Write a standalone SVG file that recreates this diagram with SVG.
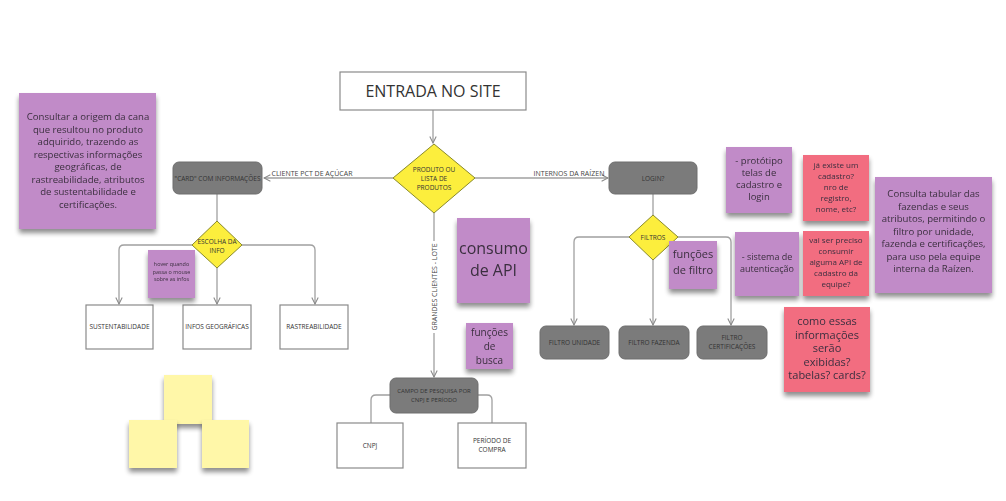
<svg xmlns="http://www.w3.org/2000/svg" width="1006" height="501" viewBox="0 0 1006 501">
<style>
text{font-family:"Open Sans","Liberation Sans",sans-serif;text-anchor:middle}
.lbl{font-size:6.5px;fill:#333}
.wbox{fill:#fff;stroke:#8a8a8a;stroke-width:1.2}
.gbox{fill:#7b7b7b;stroke:#6e6e6e;stroke-width:1}
.dia{fill:#fcee3d;stroke:#8a8a2a;stroke-width:1}
.con{fill:none;stroke:#a0a0a0;stroke-width:1.3}
.purple{fill:#c18bc8}
.pink{fill:#f26d80}
.yellow{fill:#fff7a8}
.st{fill:#3b2f3f}
.edge{font-size:7px;fill:#444}
</style>
<defs>
<marker id="arr" viewBox="0 0 10 10" refX="9" refY="5" markerWidth="8" markerHeight="8" orient="auto-start-reverse" markerUnits="userSpaceOnUse">
<path d="M1,1 L9,5 L1,9" fill="none" stroke="#888" stroke-width="1.3"/>
</marker>
<filter id="sh" x="-20%" y="-20%" width="140%" height="150%">
<feGaussianBlur in="SourceAlpha" stdDeviation="2.5"/>
<feOffset dx="0" dy="4" result="b"/>
<feComponentTransfer><feFuncA type="linear" slope="0.45"/></feComponentTransfer>
<feMerge><feMergeNode/><feMergeNode in="SourceGraphic"/></feMerge>
</filter>
</defs>
<rect width="1006" height="501" fill="#fff"/>

<g id="connectors">
<path class="con" d="M433,110 V143" marker-end="url(#arr)"/>
<path class="con" d="M393,178 H264" marker-end="url(#arr)"/>
<path class="con" d="M475,178 H608" marker-end="url(#arr)"/>
<path class="con" d="M434,213 V377" marker-end="url(#arr)"/>
<path class="con" d="M217,194 V221"/>
<path class="con" d="M192,245 H124 Q119,245 119,250 V304" marker-end="url(#arr)"/>
<path class="con" d="M217,268 V304" marker-end="url(#arr)"/>
<path class="con" d="M242,245 H310 Q315,245 315,250 V304" marker-end="url(#arr)"/>
<path class="con" d="M390,395 H376 Q371,395 371,400 V423"/>
<path class="con" d="M478,395 H487 Q492,395 492,400 V423"/>
<path class="con" d="M653,194 V215"/>
<path class="con" d="M629,237 H579 Q574,237 574,242 V325" marker-end="url(#arr)"/>
<path class="con" d="M653,260 V325" marker-end="url(#arr)"/>
<path class="con" d="M678,237 H726 Q731,237 731,242 V325" marker-end="url(#arr)"/>
<text class="edge" x="312" y="176">CLIENTE PCT DE AÇÚCAR</text>
<text class="edge" x="569" y="176">INTERNOS DA RAÍZEN</text>
<g transform="translate(434,287) rotate(-90)">
<rect x="-46" y="-5" width="92" height="10" fill="#fff"/>
<text class="edge" x="0" y="2.5">GRANDES CLIENTES - LOTE</text>
</g>
</g>

<g id="sticky-consultar" filter="url(#sh)">
<rect class="purple" x="19" y="93" width="137" height="136"/>
<g class="st" style="font-size:9.6px">
<text x="88" y="120">Consultar a origem da cana</text>
<text x="88" y="132.5">que resultou no produto</text>
<text x="88" y="145">adquirido, trazendo as</text>
<text x="88" y="157.5">respectivas informações</text>
<text x="88" y="170">geográficas, de</text>
<text x="88" y="182.5">rastreabilidade, atributos</text>
<text x="88" y="195">de sustentabilidade e</text>
<text x="88" y="207.5">certificações.</text>
</g>
</g>

<g id="entrada">
<rect class="wbox" x="340" y="72" width="186" height="38"/>
<text x="433" y="97" style="font-size:16px;fill:#333">ENTRADA NO SITE</text>
</g>

<g id="produto">
<polygon class="dia" points="434,144 475,178 434,213 393,178"/>
<text class="lbl" x="434" y="172">PRODUTO OU</text>
<text class="lbl" x="434" y="181">LISTA DE</text>
<text class="lbl" x="434" y="190">PRODUTOS</text>
</g>

<g id="card">
<rect class="gbox" x="173" y="162" width="89" height="32" rx="6"/>
<text class="lbl" x="217.5" y="180.5">"CARD" COM INFORMAÇÕES</text>
</g>

<g id="escolha">
<polygon class="dia" points="217,221 242,245 217,268 192,245"/>
<text class="lbl" x="217" y="244">ESCOLHA DA</text>
<text class="lbl" x="217" y="253">INFO</text>
</g>

<g id="sustentabilidade">
<rect class="wbox" x="86" y="305" width="67" height="44"/>
<text class="lbl" x="119.5" y="329">SUSTENTABILIDADE</text>
</g>
<g id="infos-geo">
<rect class="wbox" x="183" y="305" width="68" height="44"/>
<text class="lbl" x="217" y="329">INFOS GEOGRÁFICAS</text>
</g>
<g id="rastreabilidade">
<rect class="wbox" x="280" y="305" width="68" height="44"/>
<text class="lbl" x="314" y="329">RASTREABILIDADE</text>
</g>

<g id="sticky-hover" filter="url(#sh)">
<rect class="purple" x="148" y="250" width="47" height="48"/>
<g class="st" style="font-size:5.4px">
<text x="171.5" y="266">hover quando</text>
<text x="171.5" y="273.5">passa o mouse</text>
<text x="171.5" y="281">sobre as infos</text>
</g>
</g>

<g id="sticky-consumo" filter="url(#sh)">
<rect class="purple" x="457" y="218" width="73" height="85"/>
<text class="st" x="493.5" y="254" style="font-size:16px">consumo</text>
<text class="st" x="493.5" y="276" style="font-size:16px">de API</text>
</g>

<g id="sticky-busca" filter="url(#sh)">
<rect class="purple" x="466" y="323" width="47" height="46"/>
<g class="st" style="font-size:10px">
<text x="489.5" y="336">funções</text>
<text x="489.5" y="350">de</text>
<text x="489.5" y="364">busca</text>
</g>
</g>

<g id="pesquisa">
<rect class="gbox" x="390" y="378" width="88" height="35" rx="6"/>
<text class="lbl" x="434" y="393" style="font-size:6px">CAMPO DE PESQUISA POR</text>
<text class="lbl" x="434" y="402" style="font-size:6px">CNPJ E PERÍODO</text>
</g>
<g id="cnpj">
<rect class="wbox" x="337" y="423" width="66" height="45"/>
<text class="lbl" x="370" y="448">CNPJ</text>
</g>
<g id="periodo">
<rect class="wbox" x="458" y="423" width="68" height="45"/>
<text class="lbl" x="492" y="443">PERÍODO DE</text>
<text class="lbl" x="492" y="452">COMPRA</text>
</g>

<g id="login">
<rect class="gbox" x="609" y="162" width="88" height="32" rx="6"/>
<text class="lbl" x="653" y="180.5">LOGIN?</text>
</g>
<g id="filtros">
<polygon class="dia" points="653,215 678,237 653,260 629,237"/>
<text class="lbl" x="653" y="240">FILTROS</text>
</g>
<g id="filtro-unidade">
<rect class="gbox" x="540" y="326" width="69" height="33" rx="6"/>
<text class="lbl" x="574.5" y="345">FILTRO UNIDADE</text>
</g>
<g id="filtro-fazenda">
<rect class="gbox" x="619" y="326" width="70" height="33" rx="6"/>
<text class="lbl" x="654" y="345">FILTRO FAZENDA</text>
</g>
<g id="filtro-cert">
<rect class="gbox" x="697" y="326" width="70" height="33" rx="6"/>
<text class="lbl" x="732" y="340">FILTRO</text>
<text class="lbl" x="732" y="348.5">CERTIFICAÇÕES</text>
</g>

<g id="sticky-filtro" filter="url(#sh)">
<rect class="purple" x="669" y="241" width="48" height="48"/>
<text class="st" x="693" y="258" style="font-size:11px">funções</text>
<text class="st" x="693" y="274" style="font-size:11px">de filtro</text>
</g>

<g id="sticky-prototipo" filter="url(#sh)">
<rect class="purple" x="726" y="147" width="66" height="66"/>
<g class="st" style="font-size:9.5px">
<text x="759" y="164">- protótipo</text>
<text x="759" y="176">telas de</text>
<text x="759" y="188">cadastro e</text>
<text x="759" y="200">login</text>
</g>
</g>

<g id="sticky-existe" filter="url(#sh)">
<rect class="pink" x="803" y="155" width="66" height="66"/>
<g class="st" style="font-size:8px">
<text x="836" y="168">já existe um</text>
<text x="836" y="179">cadastro?</text>
<text x="836" y="190">nro de</text>
<text x="836" y="201">registro,</text>
<text x="836" y="212">nome, etc?</text>
</g>
</g>

<g id="sticky-sistema" filter="url(#sh)">
<rect class="purple" x="735" y="232" width="64" height="64"/>
<g class="st" style="font-size:9px">
<text x="767" y="260">- sistema de</text>
<text x="767" y="272">autenticação</text>
</g>
</g>

<g id="sticky-api" filter="url(#sh)">
<rect class="pink" x="803" y="231" width="66" height="65"/>
<g class="st" style="font-size:8px">
<text x="836" y="243">vai ser preciso</text>
<text x="836" y="254">consumir</text>
<text x="836" y="265">alguma API de</text>
<text x="836" y="276">cadastro da</text>
<text x="836" y="287">equipe?</text>
</g>
</g>

<g id="sticky-tabular" filter="url(#sh)">
<rect class="purple" x="875" y="177" width="117" height="116"/>
<g class="st" style="font-size:9.6px">
<text x="933.5" y="197">Consulta tabular das</text>
<text x="933.5" y="209.5">fazendas e seus</text>
<text x="933.5" y="222">atributos, permitindo o</text>
<text x="933.5" y="234.5">filtro por unidade,</text>
<text x="933.5" y="247">fazenda e certificações,</text>
<text x="933.5" y="259.5">para uso pela equipe</text>
<text x="933.5" y="272">interna da Raízen.</text>
</g>
</g>

<g id="sticky-como" filter="url(#sh)">
<rect class="pink" x="784" y="307" width="86" height="85"/>
<g class="st" style="font-size:11px">
<text x="827" y="325">como essas</text>
<text x="827" y="338.5">informações</text>
<text x="827" y="352">serão</text>
<text x="827" y="365.5">exibidas?</text>
<text x="827" y="379">tabelas? cards?</text>
</g>
</g>

<g id="yellow-top" filter="url(#sh)"><rect class="yellow" x="164" y="375" width="48" height="49"/></g>
<g id="yellow-left" filter="url(#sh)"><rect class="yellow" x="129" y="420" width="48" height="48"/></g>
<g id="yellow-right" filter="url(#sh)"><rect class="yellow" x="202" y="420" width="47" height="48"/></g>
</svg>
